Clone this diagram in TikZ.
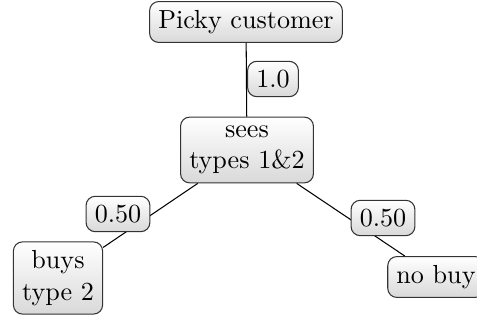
\documentclass[tikz,border=0pt]{standalone}
\usetikzlibrary{positioning}

\begin{document}
\begin{tikzpicture}[x=0.383pt, y=-0.383pt,
 state/.style={shape=rectangle, rounded corners=3.5pt, draw=black!80, top color=white, bottom color=black!15, align=center},
 prob/.style={shape=rectangle, rounded corners=3.5pt, draw=black!80, top color=white, bottom color=black!15}]

 \useasboundingbox (0,0) rectangle (477,320);

 % decision nodes
 \node[state] (cust) at (246,22) {Picky customer};
 \node[state] (sees) at (247,150) {sees\\types 1\&2};
 \node[state] (buys) at (58,278) {buys\\type 2};
 \node[state] (nobuy) at (436,277) {no buy};

 % branches
 \draw (cust) -- (sees);
 \draw (sees) -- (buys);
 \draw (sees) -- (nobuy);

 % probabilities
 \node[prob] (p1) at (273,79) {1.0};
 \node[prob] (p2) at (118,214) {0.50};
 \node[prob] (p3) at (383,218) {0.50};
\end{tikzpicture}
\end{document}
